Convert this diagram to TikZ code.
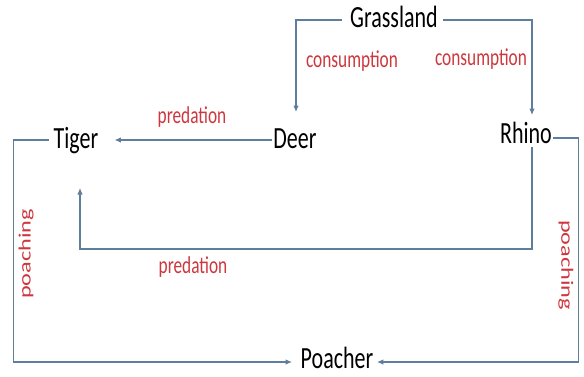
\documentclass[tikz,border=0pt]{standalone}
\usepackage{fontspec}
\setmainfont{Carlito}
\usetikzlibrary{arrows.meta}
\definecolor{linkcol}{RGB}{93,126,156}
\definecolor{tagred}{RGB}{205,55,62}
% text in this figure is set tall and narrow
\newcommand\tallt[1]{\scalebox{1}[1.4]{#1}}
\newcommand\wideup[1]{\scalebox{1.4}[1]{#1}}
\begin{document}
\begin{tikzpicture}[x=1pt,y=1pt,
  species/.style={inner sep=0pt,anchor=base,text=black,font=\fontsize{22}{26}\selectfont},
  relation/.style={inner sep=0pt,anchor=base,text=tagred,font=\fontsize{17.3}{20}\selectfont},
  link/.style={draw=linkcol,line width=1.1pt},
  tolink/.style={link,-{Latex[length=6.5pt,width=5.5pt]}}]
\useasboundingbox (0,0) rectangle (584,-376);

% species and the poacher
\node[species] (G) at (394,-27) {\tallt{Grassland}};
\node[species] (T) at (76,-148) {\tallt{Tiger}};
\node[species] (D) at (295,-148) {\tallt{Deer}};
\node[species] (R) at (526,-143) {\tallt{Rhino}};
\node[species] (P) at (337,-368.5) {\tallt{Poacher}};

% relation labels
\node[relation] (c1) at (352,-67) {\tallt{consumption}};
\node[relation] (c2) at (481,-65) {\tallt{consumption}};
\node[relation] (p1) at (192,-123) {\tallt{predation}};
\node[relation] (p2) at (193,-273) {\tallt{predation}};
\node[relation,anchor=center,rotate=90] (k1) at (26,-254) {\wideup{poaching}};
\node[relation,anchor=center,rotate=-90] (k2) at (566,-265) {\wideup{poaching}};

% grassland is eaten by deer and rhino
\draw[tolink] ([xshift=-8pt,yshift=7pt]G.base west) -| ([xshift=1pt,yshift=36pt]D.base);
\draw[tolink] ([xshift=5pt,yshift=7pt]G.base east) -| ([xshift=6pt,yshift=28pt]R.base);

% tiger preys on deer and rhino
\draw[tolink] ([xshift=-1pt,yshift=8pt]D.base west) -- ([xshift=16pt,yshift=8pt]T.base east);
\draw[tolink] ([xshift=6pt,yshift=-4pt]R.base) -- ++(0,-102) -| ([xshift=4pt,yshift=-40pt]T.base);

% both are poached
\draw[tolink] ([xshift=-5pt,yshift=8pt]T.base west) -- ++(-35,0) |- ([xshift=-8.5pt,yshift=6.5pt]P.base west);
\draw[tolink] ([xshift=1pt,yshift=5pt]R.base east) -- ++(25,0) |- ([xshift=3.5pt,yshift=6.5pt]P.base east);
\end{tikzpicture}
\end{document}
